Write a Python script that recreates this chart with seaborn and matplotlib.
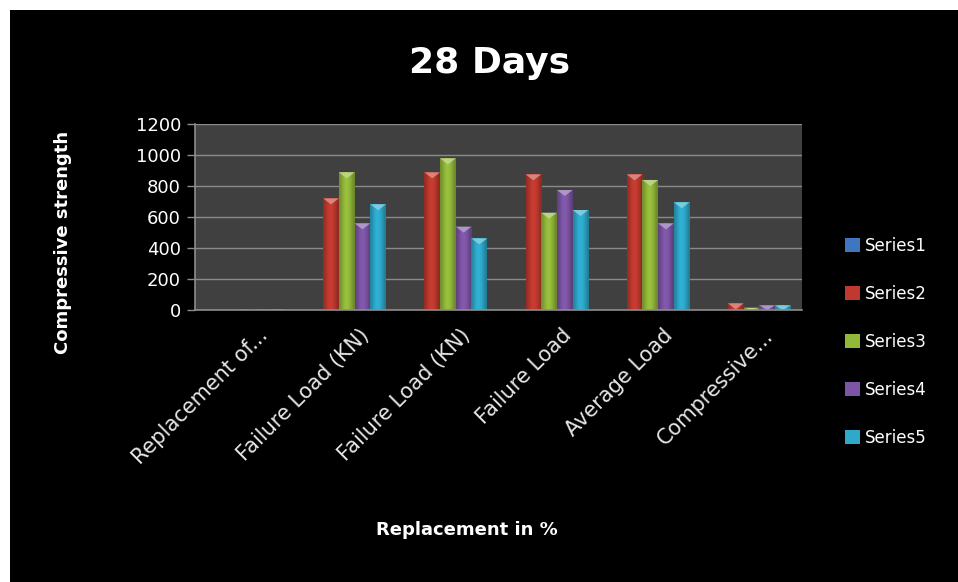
import matplotlib
matplotlib.use("Agg")
import matplotlib.pyplot as plt
import matplotlib.colors as mcolors
import matplotlib.transforms as mtransforms
from matplotlib.patches import Rectangle, Patch, Polygon
import numpy as np
import pandas as pd
import seaborn as sns

# Category labels along the x axis (two columns share a name, so keys are kept separately)
categories = ["Replacement of...", "Failure Load (KN)", "Failure Load (KN)",
              "Failure Load", "Average Load", "Compressive..."]
series_names = ["Series1", "Series2", "Series3", "Series4", "Series5"]

series1 = [0, 0, 0, 0, 0, 0]
series2 = [2, 720, 888, 875, 875, 43]
series3 = [3, 888, 978, 628, 839, 15]
series4 = [4, 559, 538, 774, 559, 30]
series5 = [5, 682, 462, 645, 695, 30]

series_colors = ["#3F76BF", "#C0392F", "#92B83A", "#7D55A5", "#2EA9CB"]
y_ticks = [0, 200, 400, 600, 800, 1000, 1200]

cat_keys = [f"c{i}" for i in range(len(categories))]
rows = []
for name, vals in zip(series_names, [series1, series2, series3, series4, series5]):
    for key, v in zip(cat_keys, vals):
        rows.append({"category": key, "series": name, "value": v})
df = pd.DataFrame(rows)

sns.set_theme(style="dark")
plt.rcParams["font.family"] = ["DejaVu Sans"]

fig = plt.figure(figsize=(9.58, 5.82), dpi=100)
fig.patch.set_facecolor("white")
# black chart area inside a thin white frame at top and left
fig.patches.append(Rectangle((10 / 958, 0), 1 - 10 / 958, 1 - 10 / 582,
                             transform=fig.transFigure, facecolor="black",
                             edgecolor="none", zorder=-10))

ax = fig.add_axes([195 / 958, 1 - 310 / 582, 607 / 958, 186 / 582])
ax.set_facecolor("#404040")

sns.barplot(data=df, x="category", y="value", hue="series", order=cat_keys,
            hue_order=series_names, palette=series_colors, width=0.776,
            saturation=1, ax=ax, legend=False, linewidth=0, errorbar=None)

ax.set_ylim(0, 1200)
ax.set_yticks(y_ticks)
ax.set_yticklabels([str(t) for t in y_ticks])
ax.set_xticks(range(len(categories)))
ax.set_xticklabels(categories, rotation=45, ha="right", rotation_mode="anchor")
ax.tick_params(axis="x", length=0, colors="white", labelsize=15, pad=11)
ax.tick_params(axis="y", length=6, width=1, color="#8c8c8c", direction="out",
               labelcolor="white", labelsize=13, pad=4, left=True)
shift = mtransforms.ScaledTranslation(12 / 100, 0, fig.dpi_scale_trans)
for lab in ax.get_xticklabels():
    lab.set_color("#e6e6e6")
    lab.set_transform(lab.get_transform() + shift)

ax.grid(axis="y", color="#8a8a8a", linewidth=1)
ax.grid(axis="x", visible=False)
ax.set_axisbelow(True)
for side in ["top", "right"]:
    ax.spines[side].set_visible(False)
for side in ["left", "bottom"]:
    ax.spines[side].set_visible(True)
    ax.spines[side].set_color("#8c8c8c")
    ax.spines[side].set_linewidth(1.2)

ax.set_xlabel("")
ax.set_ylabel("")

# bevelled look: horizontal shading across each bar and a light pyramid cap
units_per_px = 1200 / ax.bbox.height
cap_h = 6 * units_per_px
shade = np.array([0.78, 0.9, 1.0, 1.06, 1.04, 0.97, 0.86, 0.74])
for bar in list(ax.patches):
    h = bar.get_height()
    if h <= 0:
        continue
    x0, w = bar.get_x(), bar.get_width()
    rgb = np.array(mcolors.to_rgb(bar.get_facecolor()))
    img = np.clip(shade[:, None] * rgb[None, :], 0, 1)[None, :, :]
    im = ax.imshow(img, extent=(x0, x0 + w, 0, h), aspect="auto",
                   interpolation="bicubic", zorder=bar.get_zorder() + 0.1)
    im.set_clip_path(bar)
    light = np.clip(rgb + (1 - rgb) * 0.45, 0, 1)
    ch = min(cap_h, h)
    ax.add_patch(Polygon([(x0, h), (x0 + w, h), (x0 + w / 2, h - ch)],
                         closed=True, facecolor=light, edgecolor="none",
                         alpha=0.85, zorder=bar.get_zorder() + 0.2))
ax.set_xlim(-0.5, len(categories) - 0.5)
ax.set_ylim(0, 1200)

fig.text(490 / 958, 1 - 63 / 582, "28 Days", ha="center", va="center",
         color="white", fontsize=26, fontweight="bold")
fig.text(467 / 958, 1 - 530 / 582, "Replacement in %", ha="center", va="center",
         color="white", fontsize=13, fontweight="bold")
fig.text(63 / 958, 1 - 242 / 582, "Compressive strength", ha="center", va="center",
         rotation=90, color="white", fontsize=13, fontweight="bold")

handles = [Patch(facecolor=c, edgecolor="none") for c in series_colors]
leg = fig.legend(handles, series_names, loc="center left",
                 bbox_to_anchor=(830 / 958, 1 - 342 / 582), frameon=False,
                 fontsize=12, labelcolor="white", handlelength=0.9,
                 handleheight=0.9, handletextpad=0.3, labelspacing=1.8)

fig.savefig("out.png", dpi=100, facecolor=fig.get_facecolor())
